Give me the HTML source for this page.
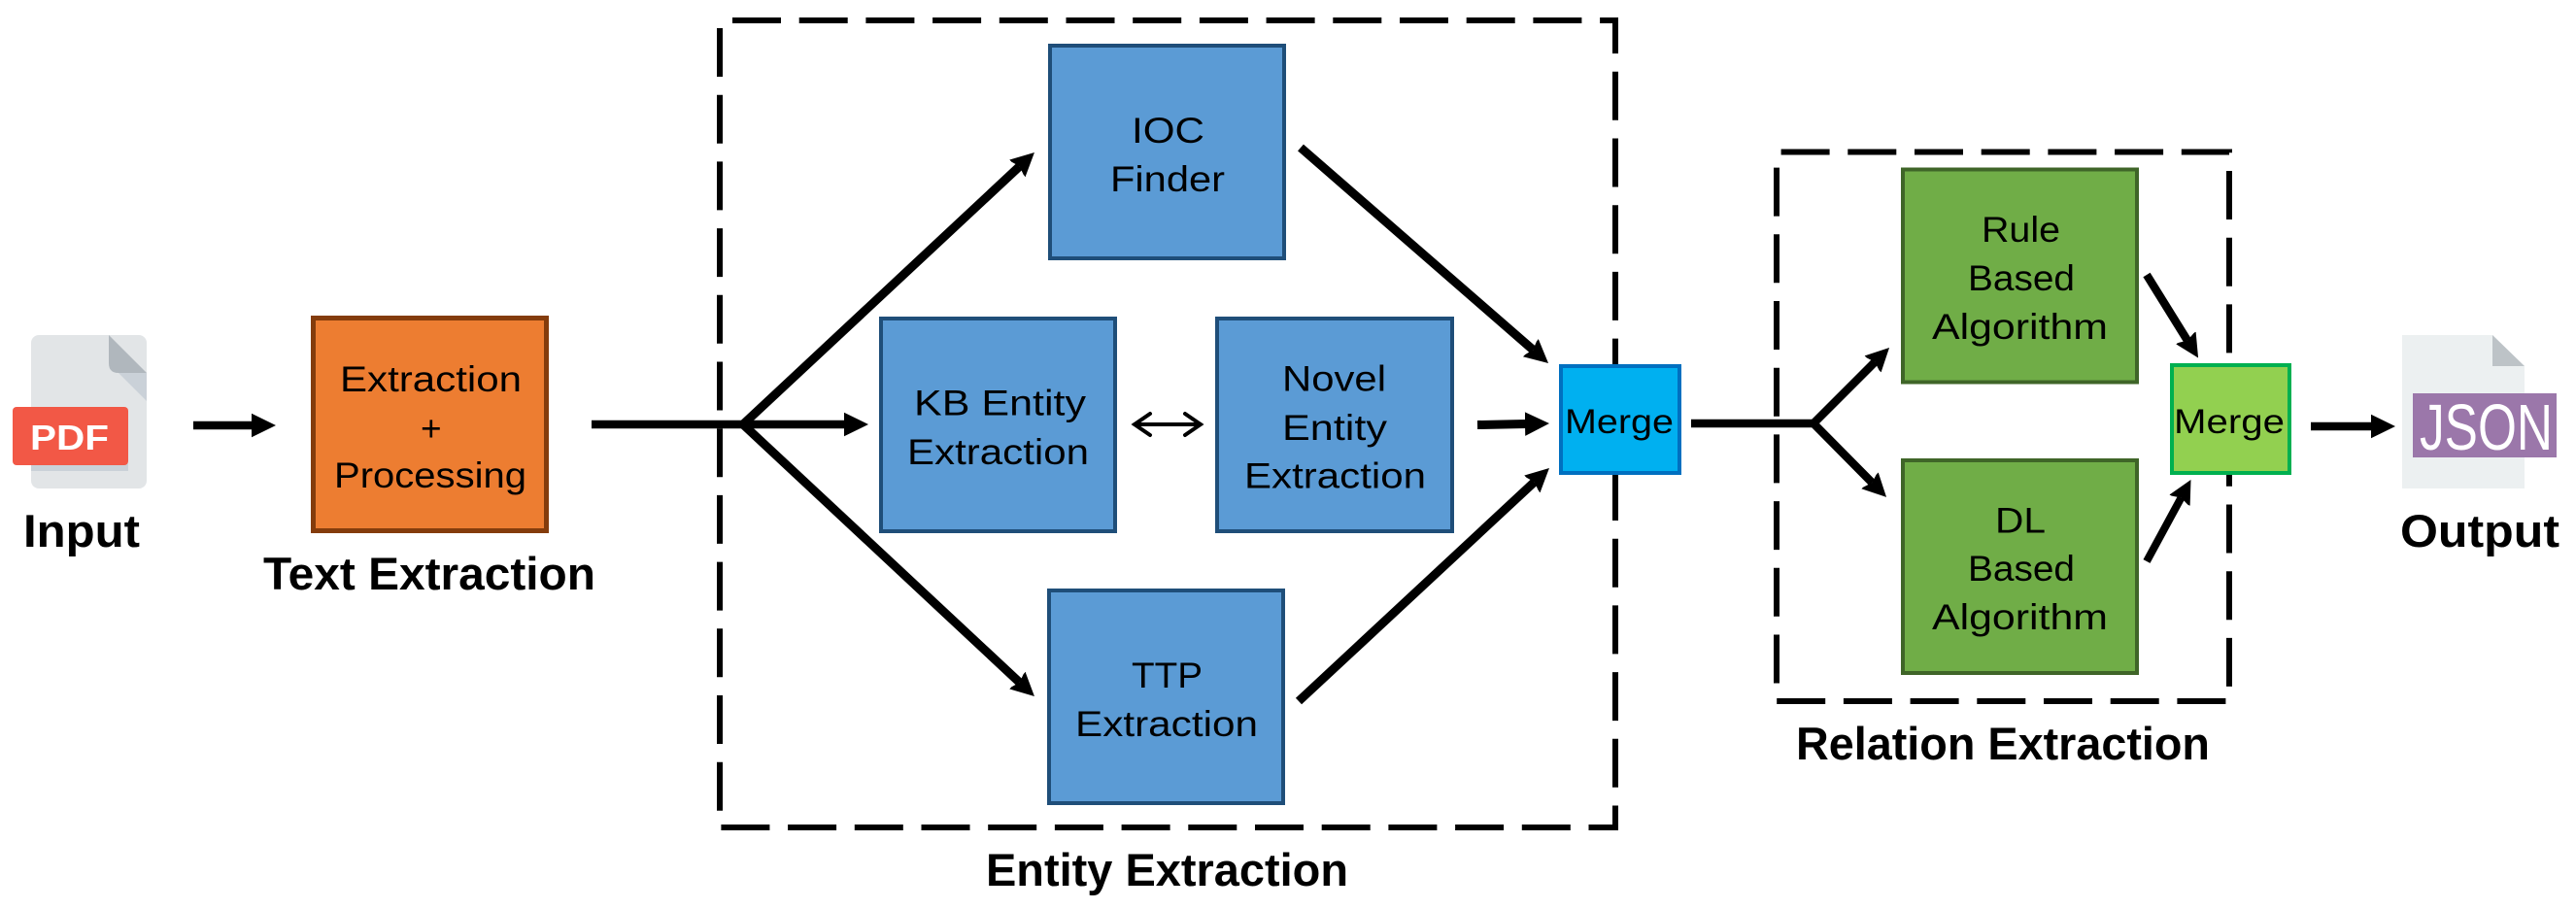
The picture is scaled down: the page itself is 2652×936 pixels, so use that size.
<!DOCTYPE html>
<html>
<head>
<meta charset="utf-8">
<style>
html,body{margin:0;padding:0;background:#fff;width:2652px;height:936px;overflow:hidden}
svg{display:block}
text{font-family:"Liberation Sans",sans-serif;fill:#000}
.n{font-size:37px}
.b{font-size:47px;font-weight:bold}
.m{font-size:35px}
</style>
</head>
<body>
<svg width="2652" height="936" viewBox="0 0 2652 936" xmlns="http://www.w3.org/2000/svg">
<defs>
<marker id="h" markerUnits="userSpaceOnUse" markerWidth="30" markerHeight="30" viewBox="0 -15 30 30" refX="1" refY="0" orient="auto"><path d="M0,-12.3 L25,0 L0,12.3 Z" fill="#000"/></marker>
<marker id="d" markerUnits="userSpaceOnUse" markerWidth="30" markerHeight="30" viewBox="0 -15 30 30" refX="3" refY="0" orient="auto"><path d="M-1,-12.5 L24,0 L-1,12.5 L3,0 Z" fill="#000"/></marker>
</defs>
<rect width="2652" height="936" fill="#fff"/>

<!-- Dashed groups -->
<path d="M754,21 H1663 V852 H741 V21" fill="none" stroke="#000" stroke-width="6" stroke-dasharray="50 18.7"/>
<path d="M1833.6,156.5 H2295 V722 H1829 V156.5" fill="none" stroke="#000" stroke-width="6" stroke-dasharray="50 18.7"/>

<!-- PDF icon -->
<rect x="32" y="345" width="119" height="158" rx="8" fill="#E2E5E7"/>
<path d="M112,345 L151,384 H122 Q112,384 112,374 Z" fill="#B0B7BD"/>
<path d="M122,384 L151,413 V384 Z" fill="#CAD1D8"/>
<rect x="32" y="477" width="100" height="8" fill="#CAD1D8"/>
<rect x="13" y="419" width="119" height="60" rx="4" fill="#F25846"/>
<text x="31" y="463" font-size="36" font-weight="bold" style="fill:#fff" textLength="81" lengthAdjust="spacingAndGlyphs">PDF</text>
<text class="b" x="24" y="563" textLength="120" lengthAdjust="spacingAndGlyphs">Input</text>

<!-- Arrow input -> extraction -->
<line x1="199" y1="438" x2="260" y2="438" stroke="#000" stroke-width="8.5" marker-end="url(#h)"/>

<!-- Orange -->
<rect x="322.5" y="327.5" width="240" height="219" fill="#ED7D31" stroke="#843C0C" stroke-width="5"/>
<text class="n" x="350" y="403" textLength="187" lengthAdjust="spacingAndGlyphs">Extraction</text>
<text class="n" x="433" y="454">+</text>
<text class="n" x="344" y="502" textLength="198" lengthAdjust="spacingAndGlyphs">Processing</text>
<text class="b" x="271" y="607" textLength="342" lengthAdjust="spacingAndGlyphs">Text Extraction</text>

<!-- Main line and branches -->
<line x1="609" y1="437" x2="768" y2="437" stroke="#000" stroke-width="8.5"/>
<line x1="765" y1="437" x2="870" y2="437" stroke="#000" stroke-width="8.5" marker-end="url(#h)"/>
<line x1="765" y1="437" x2="1049.6" y2="171.3" stroke="#000" stroke-width="9" marker-end="url(#d)"/>
<line x1="765" y1="437" x2="1049.6" y2="702.7" stroke="#000" stroke-width="9" marker-end="url(#d)"/>

<!-- Blue boxes -->
<rect x="1081" y="47" width="241" height="219" fill="#5B9BD5" stroke="#1F4E79" stroke-width="4"/>
<text class="n" x="1165" y="147" textLength="75" lengthAdjust="spacingAndGlyphs">IOC</text>
<text class="n" x="1143" y="197" textLength="118" lengthAdjust="spacingAndGlyphs">Finder</text>

<rect x="907" y="328" width="241" height="219" fill="#5B9BD5" stroke="#1F4E79" stroke-width="4"/>
<text class="n" x="941" y="427.5" textLength="177" lengthAdjust="spacingAndGlyphs">KB Entity</text>
<text class="n" x="934" y="478" textLength="187" lengthAdjust="spacingAndGlyphs">Extraction</text>

<rect x="1253" y="328" width="242" height="219" fill="#5B9BD5" stroke="#1F4E79" stroke-width="4"/>
<text class="n" x="1320" y="402.5" textLength="107" lengthAdjust="spacingAndGlyphs">Novel</text>
<text class="n" x="1320" y="453" textLength="108" lengthAdjust="spacingAndGlyphs">Entity</text>
<text class="n" x="1281" y="502.5" textLength="187" lengthAdjust="spacingAndGlyphs">Extraction</text>

<rect x="1080" y="608" width="241" height="219" fill="#5B9BD5" stroke="#1F4E79" stroke-width="4"/>
<text class="n" x="1165" y="708" textLength="73" lengthAdjust="spacingAndGlyphs">TTP</text>
<text class="n" x="1107" y="758" textLength="188" lengthAdjust="spacingAndGlyphs">Extraction</text>
<text class="b" x="1015" y="912" textLength="373" lengthAdjust="spacingAndGlyphs">Entity Extraction</text>

<!-- double arrow -->
<path d="M1168,437 H1236 M1184,426 L1168,437 L1184,448 M1220,426 L1236,437 L1220,448" fill="none" stroke="#000" stroke-width="4" stroke-linecap="round" stroke-linejoin="miter"/>

<!-- Arrows into merge -->
<line x1="1339" y1="152" x2="1578.2" y2="360.2" stroke="#000" stroke-width="9" marker-end="url(#d)"/>
<line x1="1521" y1="437.5" x2="1571" y2="436.5" stroke="#000" stroke-width="9" marker-end="url(#h)"/>
<line x1="1337" y1="722" x2="1579.6" y2="496.3" stroke="#000" stroke-width="9" marker-end="url(#d)"/>

<!-- Merge blue -->
<rect x="1607" y="377" width="122" height="110" fill="#00B0F0" stroke="#0070C0" stroke-width="4"/>
<text class="m" x="1611" y="446" textLength="112" lengthAdjust="spacingAndGlyphs">Merge</text>

<!-- Split to relation -->
<line x1="1741" y1="436" x2="1870" y2="436" stroke="#000" stroke-width="8.5"/>
<line x1="1867" y1="436" x2="1930.2" y2="372.8" stroke="#000" stroke-width="8.5" marker-end="url(#d)"/>
<line x1="1867" y1="436" x2="1927.3" y2="497" stroke="#000" stroke-width="8.5" marker-end="url(#d)"/>

<!-- Green boxes -->
<rect x="1959" y="174.5" width="241" height="219" fill="#70AD47" stroke="#3F6528" stroke-width="4"/>
<text class="n" x="2040" y="249" textLength="81" lengthAdjust="spacingAndGlyphs">Rule</text>
<text class="n" x="2026" y="299" textLength="110" lengthAdjust="spacingAndGlyphs">Based</text>
<text class="n" x="1989" y="349" textLength="181" lengthAdjust="spacingAndGlyphs">Algorithm</text>

<rect x="1959" y="474" width="241" height="219" fill="#70AD47" stroke="#3F6528" stroke-width="4"/>
<text class="n" x="2054" y="548.5" textLength="52" lengthAdjust="spacingAndGlyphs">DL</text>
<text class="n" x="2026" y="598" textLength="110" lengthAdjust="spacingAndGlyphs">Based</text>
<text class="n" x="1989" y="648" textLength="181" lengthAdjust="spacingAndGlyphs">Algorithm</text>
<text class="b" x="1849" y="782" textLength="426" lengthAdjust="spacingAndGlyphs">Relation Extraction</text>

<line x1="2210" y1="283" x2="2252" y2="350.6" stroke="#000" stroke-width="8.5" marker-end="url(#d)"/>
<line x1="2210" y1="578" x2="2245.5" y2="512.5" stroke="#000" stroke-width="8" marker-end="url(#d)"/>

<!-- Merge green -->
<rect x="2236" y="376" width="121" height="111" fill="#92D050" stroke="#00B050" stroke-width="4"/>
<text class="m" x="2238" y="446" textLength="114" lengthAdjust="spacingAndGlyphs">Merge</text>

<line x1="2379" y1="439" x2="2442" y2="439" stroke="#000" stroke-width="8.5" marker-end="url(#h)"/>

<!-- JSON icon -->
<path d="M2473,345 H2566 L2599,377 V503 H2473 Z" fill="#ECF0F1"/>
<path d="M2566,345 V377 H2599 Z" fill="#BDC3C7"/>
<rect x="2484" y="405" width="148" height="66" fill="#9B77AA"/>
<text x="2491" y="463" font-size="67" style="fill:#fff" textLength="137" lengthAdjust="spacingAndGlyphs">JSON</text>
<text class="b" x="2471" y="563" textLength="164" lengthAdjust="spacingAndGlyphs">Output</text>
</svg>
</body>
</html>
